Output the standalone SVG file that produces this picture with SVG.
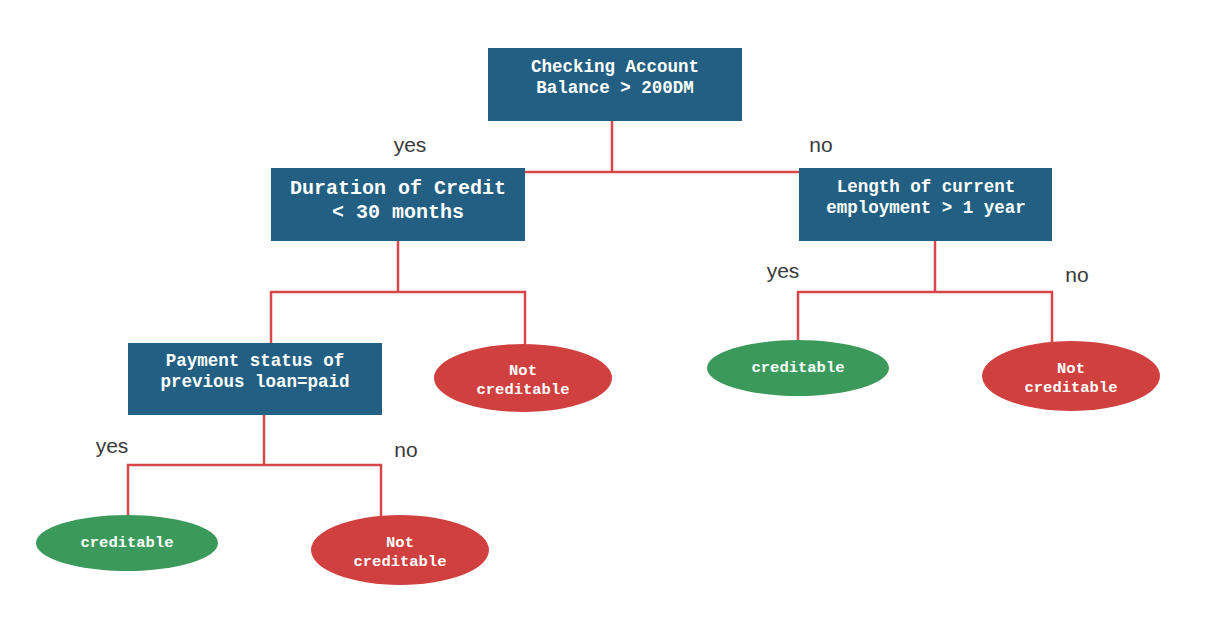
<svg xmlns="http://www.w3.org/2000/svg" width="1205" height="622" viewBox="0 0 1205 622">
<style>
.box{fill:#225f82}
.red{fill:#d0403f}
.green{fill:#3b9a5b}
.t{font-family:"Liberation Mono","Courier New",monospace;font-weight:bold;fill:#ffffff;text-anchor:middle}
.lbl{font-family:"Liberation Sans",Arial,sans-serif;font-size:21px;fill:#3a3a3a;text-anchor:middle}
.conn{fill:none;stroke:#d6474a;stroke-width:2.5}
</style>
<rect width="1205" height="622" fill="#ffffff"/>
<g id="connectors">
<polyline class="conn" points="612,121 612,172"/>
<polyline class="conn" points="525,172 799,172"/>
<polyline class="conn" points="398,241 398,292"/>
<polyline class="conn" points="271,343 271,292 525,292 525,344"/>
<polyline class="conn" points="935,241 935,292"/>
<polyline class="conn" points="798,341 798,292 1052,292 1052,342"/>
<polyline class="conn" points="264,415 264,465"/>
<polyline class="conn" points="128,516 128,465 381,465 381,516"/>
</g>
<g id="labels">
<text class="lbl" x="410" y="152">yes</text>
<text class="lbl" x="821" y="152">no</text>
<text class="lbl" x="783" y="278">yes</text>
<text class="lbl" x="1077" y="282">no</text>
<text class="lbl" x="112" y="453">yes</text>
<text class="lbl" x="406" y="457">no</text>
</g>
<g id="root">
<rect class="box" x="488" y="48" width="254" height="73"/>
<text class="t" font-size="17.5" x="615" y="72">Checking Account</text>
<text class="t" font-size="17.5" x="615" y="93">Balance &gt; 200DM</text>
</g>
<g id="duration">
<rect class="box" x="271" y="168" width="254" height="73"/>
<text class="t" font-size="20" x="398" y="194">Duration of Credit</text>
<text class="t" font-size="20" x="398" y="218">&lt; 30 months</text>
</g>
<g id="employment">
<rect class="box" x="799" y="168" width="253" height="73"/>
<text class="t" font-size="17.5" x="926" y="192">Length of current</text>
<text class="t" font-size="17.5" x="926" y="213">employment &gt; 1 year</text>
</g>
<g id="payment">
<rect class="box" x="128" y="343" width="254" height="72"/>
<text class="t" font-size="17.5" x="255" y="366">Payment status of</text>
<text class="t" font-size="17.5" x="255" y="387">previous loan=paid</text>
</g>
<g id="leaf-duration-no">
<ellipse class="red" cx="523" cy="378" rx="89" ry="34"/>
<text class="t" font-size="15.5" x="523" y="375">Not</text>
<text class="t" font-size="15.5" x="523" y="394">creditable</text>
</g>
<g id="leaf-employment-yes">
<ellipse class="green" cx="798" cy="368" rx="91" ry="28"/>
<text class="t" font-size="15.5" x="798" y="372">creditable</text>
</g>
<g id="leaf-employment-no">
<ellipse class="red" cx="1071" cy="376" rx="89" ry="35"/>
<text class="t" font-size="15.5" x="1071" y="373">Not</text>
<text class="t" font-size="15.5" x="1071" y="392">creditable</text>
</g>
<g id="leaf-payment-yes">
<ellipse class="green" cx="127" cy="543" rx="91" ry="28"/>
<text class="t" font-size="15.5" x="127" y="547">creditable</text>
</g>
<g id="leaf-payment-no">
<ellipse class="red" cx="400" cy="550" rx="89" ry="35"/>
<text class="t" font-size="15.5" x="400" y="547">Not</text>
<text class="t" font-size="15.5" x="400" y="566">creditable</text>
</g>
</svg>
